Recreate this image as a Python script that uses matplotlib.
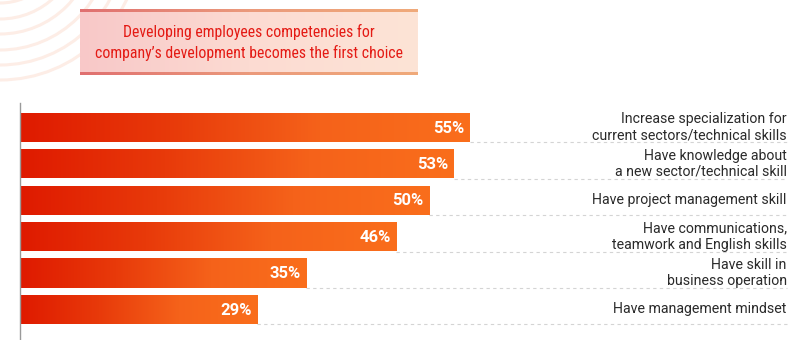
import matplotlib
matplotlib.use("Agg")
import matplotlib.pyplot as plt
import numpy as np
from matplotlib.colors import LinearSegmentedColormap
from matplotlib.patches import Circle

categories = [
    "Increase specialization for\ncurrent sectors/technical skills",
    "Have knowledge about\na new sector/technical skill",
    "Have project management skill",
    "Have communications,\nteamwork and English skills",
    "Have skill in\nbusiness operation",
    "Have management mindset",
]
values = [55, 53, 50, 46, 35, 29]
value_labels = ["55%", "53%", "50%", "46%", "35%", "29%"]
title = "Developing employees competencies for\ncompany\u2019s development becomes the first choice"

W, H = 800, 340
fig = plt.figure(figsize=(8, 3.4), dpi=100)
fig.patch.set_facecolor("white")

# decorative arcs top-left
deco = fig.add_axes([0, 0, 1, 1], zorder=0)
deco.set_xlim(0, W); deco.set_ylim(H, 0); deco.axis("off")
for r in [63, 79, 94, 110, 125, 140]:
    deco.add_patch(Circle((0, -60), r, fill=False, ec="#fdede6", lw=2.2))

# title box
tax = fig.add_axes([80 / W, 1 - 75 / H, 338 / W, 66 / H], zorder=2)
tcmap = LinearSegmentedColormap.from_list("t", ["#f8c8c8", "#fcdbd2", "#fde4d6"])
tax.imshow(np.linspace(0, 1, 256)[None, :], cmap=tcmap, aspect="auto", extent=[0, 1, 0, 1])
bcmap = LinearSegmentedColormap.from_list("b", ["#e07070", "#eb9a7c", "#f0aa7a"])
tax.imshow(np.linspace(0, 1, 256)[None, :], cmap=bcmap, aspect="auto", extent=[0, 1, 0.955, 1.0])
tax.imshow(np.linspace(0, 1, 256)[None, :], cmap=bcmap, aspect="auto", extent=[0, 1, 0.0, 0.045])
tax.set_xlim(0, 1); tax.set_ylim(0, 1); tax.axis("off")
tax.text(0.5, 0.49, title, ha="center", va="center", color="#e41a14",
         fontsize=11.3, linespacing=1.35,
         family=["Liberation Sans Narrow", "Roboto Condensed", "Roboto"])

# bars
x0, x1 = 20, 800
y0, y1 = 103, 340
ax = fig.add_axes([x0 / W, 1 - y1 / H, (x1 - x0) / W, (y1 - y0) / H], zorder=1)
scale = 450 / 55.0  # px per percent
n = len(values)
ypos = np.arange(n)
bh = 0.8
bars = ax.barh(ypos, values, height=bh, color="none", edgecolor="none")
cmap = LinearSegmentedColormap.from_list("g", ["#df1a00", "#e83a0a", "#f5621a", "#fa6e1c"])
grad = np.linspace(0, 1, 256)[None, :]
xmax = (x1 - x0) / scale
for b, v, lab in zip(bars, values, value_labels):
    y = b.get_y()
    im = ax.imshow(grad, cmap=cmap, aspect="auto",
                   extent=[0, v, y + bh, y], zorder=2)
    im.set_clip_path(b)
    ax.text(v - 0.7, y + bh / 2 + 0.02, lab, ha="right", va="center", color="white",
            fontsize=12, fontweight="bold", family="Roboto", zorder=3)
    ax.plot([v, 0.983 * xmax], [y + bh + 0.01, y + bh + 0.01], color="#d4d4d4", lw=0.8,
            ls=(0, (3, 3)), zorder=1)

for yy, cat in zip(ypos, categories):
    ax.text(0.983, yy, cat, transform=ax.get_yaxis_transform(), ha="right", va="center",
            multialignment="right", fontsize=10.2, color="#2a2a2a", family="Roboto",
            linespacing=1.2)

for s in ["top", "right", "bottom"]:
    ax.spines[s].set_visible(False)
ax.spines["left"].set_color("#9a9a9a")
ax.spines["left"].set_linewidth(1)
ax.set_xticks([]); ax.set_yticks([])
ax.patch.set_alpha(0)
ax.set_xlim(0, xmax)
ax.set_ylim(n - 1 + 0.84, -0.67)

fig.savefig("out.png", dpi=100, facecolor="white")
